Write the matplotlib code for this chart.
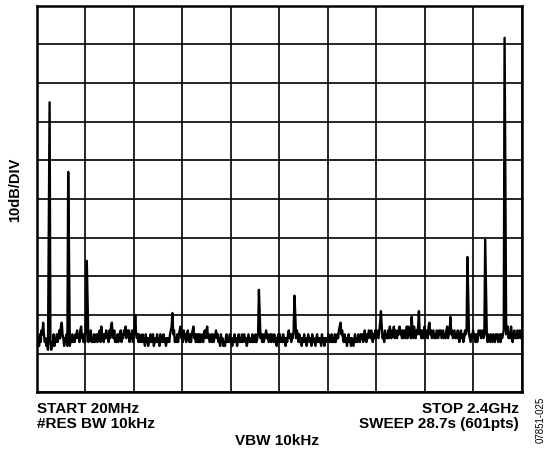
import matplotlib.pyplot as plt
import numpy as np

plt.rcParams['font.family'] = ['Liberation Sans', 'DejaVu Sans']

# sweep settings
start_mhz = 20
stop_mhz = 2400
n_pts = 601
floor_db = -86

# noise around the floor, dB offsets, one per sweep point
noise = [
    1, -1, 0, -2, 1, -1, 2, 1, 4, 1, -1, 0, -2, -1, -3, 0, 0, -1, -3, -1, -2, 1, -2, 0, -1,
    1, -1, 0, 2, 0, 3, 4, 1, 0, -2, 0, -1, 1, -2, 0, -1, -2, 0, -1, 1, -1, 0, -1, 1, 0,
    2, 0, 1, -1, 2, 3, 0, 1, -1, 1, -1, 2, 0, 0, -1, 1, 0, 2, -1, 0, -1, 1, -1, 0, 1,
    -1, 1, 0, 2, -1, 3, 0, 1, -1, 1, 0, 2, 0, 1, -1, 2, 0, 3, 4, 1, 0, 2, -1, 0, -1,
    1, -1, 1, 0, 2, -1, 1, 0, 2, 1, 3, 0, 2, 1, 2, -1, 1, 0, 2, -1, 1, 2, -1, 1, 0,
    1, -1, 1, -1, 0, -1, 1, -1, 0, -2, 1, -1, 0, -2, 0, -1, 1, -1, 0, 1, -2, -1, 0, -1, 1,
    -1, 0, -2, 1, -1, 0, -1, 1, -1, 0, -2, 0, -1, 0, -1, 1, 2, 3, 5, 1, 2, -1, 0, -1, 1,
    -1, 1, 2, 3, 0, 1, -1, 2, 0, 1, -1, 1, 2, 0, -1, 1, -1, 1, 2, 3, 0, 1, -1, 1, -1,
    1, -1, 1, -1, 0, 1, -1, 1, 2, 0, 2, 3, 0, 1, -1, 0, 1, -1, 1, -1, 0, 1, 2, 0, 1,
    -1, 0, -2, 1, -1, 0, -2, -1, -2, 0, 1, -1, 0, -1, 1, -1, 0, -2, 0, -1, 1, -1, 0, -2, 0,
    1, -1, 0, -1, 1, -1, 0, 1, -1, 0, -2, -1, 1, 0, -1, 0, -1, 1, -1, 0, -1, 1, -1, 0, 1,
    6, 2, 0, 1, -1, 1, -1, 0, 1, 2, 0, 1, -1, 0, 1, -1, 1, 0, -1, 1, -1, 0, -2, 0, 1,
    -1, 1, -1, 0, -1, 1, -1, 0, -2, 0, -1, 1, 2, 0, 1, -1, 1, 0, 2, 6, 3, 0, 2, 1, -1,
    1, -1, 0, -2, 0, -1, 1, -1, 0, -2, -1, 1, 0, -1, 0, -2, 1, -1, 0, -1, -2, 0, 1, -1, 0,
    -1, 0, -2, 1, -1, 0, -2, 0, -1, 0, -1, 1, -1, 0, -1, 1, -1, 0, -1, 1, -1, 0, 1, 0, 2,
    3, 4, 1, 2, 0, -1, 1, -1, 0, -2, 0, 1, -1, 0, -2, 0, -1, -2, 0, 1, -1, 0, -1, 1, 0,
    -1, 1, 0, 1, -1, 0, 2, 0, -1, 1, 0, 2, 1, 0, 2, 0, -1, 1, 0, 2, 0, 2, 1, 0, 2,
    4, 6, 3, 0, 1, -1, 2, 0, 1, 0, 2, 0, 3, 1, 0, 2, 1, 3, 0, 2, 1, 0, 2, 1, 3,
    1, 2, 0, 2, 0, 2, 1, 0, 3, 0, 3, 1, 2, 0, 6, 2, 0, 3, 1, 0, 2, 1, 3, 6, 1,
    2, 0, 2, 0, 1, 3, 0, 1, 2, 0, 3, 4, 1, 2, 0, 1, 2, 0, 1, 0, 2, 1, 0, 2, 1,
    2, 0, 1, 2, 0, 1, 0, 2, 3, 0, 1, 2, 6, 1, 2, 0, 1, 2, 0, 1, 0, 2, 1, -1, 1,
    2, 0, 1, -1, 0, 2, 1, 2, 9, 9, 1, 0, -1, 1, 0, 2, 0, 1, -1, 1, -1, 0, 2, 1, 2,
    0, 1, 2, 0, 1, 9, 9, 1, -1, 1, 0, -1, 1, 0, -1, 1, 0, -1, 1, 0, 1, -1, 0, 1, -1,
    1, 0, 1, 2, 9, 9, 1, 2, 3, 0, 1, 0, 3, 1, -1, 1, 2, 0, 1, 0, 2, 0, 1, 2, 0,
    1,
]

# spurs / harmonics: sweep point index and level in dBm
peak_idx = [15, 16, 39, 40, 62, 63, 122, 168, 275, 276, 319, 320,
            426, 464, 473, 512, 533, 534, 555, 556, 579, 580]
peak_db = [-55, -25, -43, -64, -66, -76, -80, -79.5, -73.5, -80, -75, -80,
           -79, -80.5, -79, -80.5, -65, -75, -60.5, -72.5, -8.3, -46]

freq = np.linspace(start_mhz, stop_mhz, n_pts)
trace = floor_db + np.array(noise, dtype=float)
trace[peak_idx] = peak_db

fig = plt.figure(figsize=(5.49, 4.49), dpi=100)
ax = fig.add_axes([0.0668, 0.1263, 0.8832, 0.861])

ax.plot(freq, trace, color='black', lw=1.7)

ax.set_xlim(start_mhz, stop_mhz)
ax.set_ylim(-100, 0)
ax.set_xticks(np.linspace(start_mhz, stop_mhz, 11))
ax.set_yticks(np.arange(-100, 1, 10))
ax.tick_params(length=0, labelbottom=False, labelleft=False)
ax.grid(True, color='black', lw=1.2)
for s in ax.spines.values():
    s.set_linewidth(1.8)

fs = 11
fig.text(0.0668, 0.08, 'START 20MHz', fontsize=fs, fontweight='bold', ha='left')
fig.text(0.0668, 0.046, '#RES BW 10kHz', fontsize=fs, fontweight='bold', ha='left')
fig.text(0.945, 0.08, 'STOP 2.4GHz', fontsize=fs, fontweight='bold', ha='right')
fig.text(0.945, 0.046, 'SWEEP 28.7s (601pts)', fontsize=fs, fontweight='bold', ha='right')
fig.text(0.505, 0.009, 'VBW 10kHz', fontsize=fs, fontweight='bold', ha='center')
fig.text(0.028, 0.577, '10dB/DIV', fontsize=10.5, fontweight='bold', rotation=90,
         ha='center', va='center')
fig.text(0.985, 0.065, '07851-025', fontsize=7, rotation=90, ha='center', va='center')

plt.savefig('out.png', dpi=100)
